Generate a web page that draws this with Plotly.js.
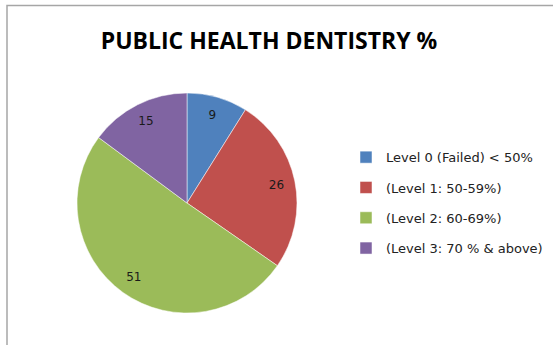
<!DOCTYPE html>
<html>
<head>
<meta charset="utf-8">
<script src="https://cdn.plot.ly/plotly-3.0.1.min.js"></script>
<style>html,body{margin:0;padding:0;background:#fff;}#chart{width:553px;height:345px;}</style>
</head>
<body>
<div id="chart"></div>
<script>
var categories = ["Level 0 (Failed) < 50%", "(Level 1: 50-59%)", "(Level 2: 60-69%)", "(Level 3: 70 % & above)"];
var values = [9, 26, 51, 15];
var colors = ["#4F81BD", "#C0504D", "#9BBB59", "#8064A2"];
var chartTitle = "PUBLIC HEALTH DENTISTRY %";

var W = 553, H = 345;
var cx = 187, cy = 203, r = 110;
var pieDomain = { x: [(cx - r) / W, (cx + r) / W], y: [1 - (cy + r) / H, 1 - (cy - r) / H] };

var legendLabels = categories.map(function (c) {
  return '<span style="font-size:13px;baseline-shift:3.5px">' + c.replace(/&/g, '&amp;').replace(/</g, '&lt;') + '</span>';
});

var pieTrace = {
  type: 'pie',
  labels: legendLabels,
  values: values,
  sort: false,
  direction: 'clockwise',
  rotation: 0,
  marker: { colors: colors, line: { color: '#ffffff', width: 0.5 } },
  textinfo: 'none',
  hoverinfo: 'none',
  domain: pieDomain
};

// transparent ring carrying the value labels near the rim
var labelTrace = {
  type: 'pie',
  labels: legendLabels,
  values: values,
  sort: false,
  direction: 'clockwise',
  rotation: 0,
  hole: 0.66,
  showlegend: false,
  marker: { colors: values.map(function () { return 'rgba(0,0,0,0)'; }), line: { width: 0 } },
  textinfo: 'value',
  textposition: 'inside',
  insidetextorientation: 'horizontal',
  insidetextfont: { family: 'DejaVu Sans', size: 12, color: '#1a1a1a' },
  hoverinfo: 'none',
  domain: pieDomain
};

var layout = {
  width: W, height: H,
  margin: { l: 0, r: 0, t: 0, b: 0 },
  paper_bgcolor: '#ffffff',
  title: {
    text: '<b>' + chartTitle + '</b>',
    font: { family: 'Open Sans', size: 23, color: '#000000' },
    x: 269 / W, xanchor: 'center',
    y: 1 - 41 / H, yanchor: 'middle'
  },
  showlegend: true,
  legend: {
    x: 346 / W, xanchor: 'left',
    y: 1 - 137 / H, yanchor: 'top',
    font: { family: 'DejaVu Sans', size: 21, color: '#222222' },
    bgcolor: 'rgba(0,0,0,0)',
    traceorder: 'normal'
  },
  shapes: [{
    type: 'rect', xref: 'paper', yref: 'paper',
    x0: 7 / W, x1: 1.05, y0: -0.05, y1: 1 - 5.5 / H,
    line: { color: '#a6a6a6', width: 1.5 }
  }]
};

Plotly.newPlot('chart', [pieTrace, labelTrace], layout, { staticPlot: true, displayModeBar: false });
</script>
</body>
</html>
